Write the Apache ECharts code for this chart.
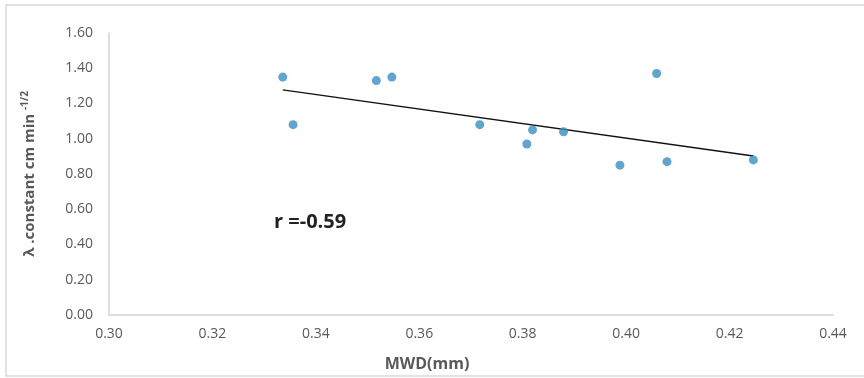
<!DOCTYPE html>
<html><head><meta charset="utf-8">
<script src="https://cdn.jsdelivr.net/npm/echarts@6/dist/echarts.min.js"></script>
<style>html,body{margin:0;padding:0;background:#fff}#c{width:864px;height:378px}</style>
</head><body><div id="c"></div>
<script>
var mwd = [0.3336, 0.3356, 0.3517, 0.3547, 0.3717, 0.3819, 0.3808, 0.3879, 0.4059, 0.3988, 0.4079, 0.4246];
var lambda = [1.35, 1.08, 1.33, 1.35, 1.08, 1.05, 0.97, 1.04, 1.37, 0.85, 0.87, 0.88];
var trendX = [0.3336, 0.4246];
var trendY = [1.277, 0.902];
var xTicks = [0.30, 0.44, 0.02];
var yTicks = [0.00, 1.60, 0.20];
var rText = 'r =-0.59';
var xName = 'MWD(mm)';

var chart = echarts.init(document.getElementById('c'), null, {renderer: 'canvas'});
var font = 'Open Sans, Liberation Sans, sans-serif';
chart.setOption({
  animation: false,
  backgroundColor: '#fff',
  grid: {left: 109, right: 31, top: 33, bottom: 63},
  graphic: [
    {type: 'rect', shape: {x: 6, y: 5, width: 880, height: 371}, style: {fill: 'none', stroke: '#d9d9d9', lineWidth: 1.5}, silent: true},
    {type: 'text', x: 274, y: 222, style: {text: rText, font: 'bold 20px ' + font, fill: '#222', textVerticalAlign: 'middle'}},
    {type: 'text', x: 427, y: 364, style: {text: xName, font: 'bold 16px ' + font, fill: '#595959', textAlign: 'center', textVerticalAlign: 'middle'}}
  ],
  xAxis: {
    type: 'value', min: xTicks[0], max: xTicks[1], interval: xTicks[2],
    axisLine: {show: true, lineStyle: {color: '#d4d4d4', width: 1.5}},
    axisTick: {show: false}, splitLine: {show: false},
    axisLabel: {color: '#595959', fontSize: 14, fontFamily: font, margin: 12, formatter: function (v) { return v.toFixed(2); }}
  },
  yAxis: {
    type: 'value', min: yTicks[0], max: yTicks[1], interval: yTicks[2],
    axisLine: {show: true, lineStyle: {color: '#d4d4d4', width: 1.5}},
    axisTick: {show: false}, splitLine: {show: false},
    axisLabel: {color: '#595959', fontSize: 14, fontFamily: font, margin: 16, formatter: function (v) { return v.toFixed(2); }},
    name: '{n|λ .constant cm min }{s|-1/2}', nameLocation: 'middle', nameGap: 70, nameRotate: 90,
    nameTextStyle: {
      rich: {
        n: {fontSize: 15, fontWeight: 'bold', color: '#595959', fontFamily: font},
        s: {fontSize: 10, fontWeight: 'bold', color: '#595959', fontFamily: font, verticalAlign: 'top', padding: [0, 0, 9, 0]}
      }
    }
  },
  series: [
    {
      type: 'line', data: trendX.map(function (x, i) { return [x, trendY[i]]; }),
      symbol: 'none', lineStyle: {color: '#111', width: 1.4}, silent: true, z: 1
    },
    {
      type: 'scatter', data: mwd.map(function (x, i) { return [x, lambda[i]]; }),
      symbol: 'circle', symbolSize: 9, itemStyle: {color: '#3a8dc2'}, z: 2
    }
  ]
});
</script></body></html>
